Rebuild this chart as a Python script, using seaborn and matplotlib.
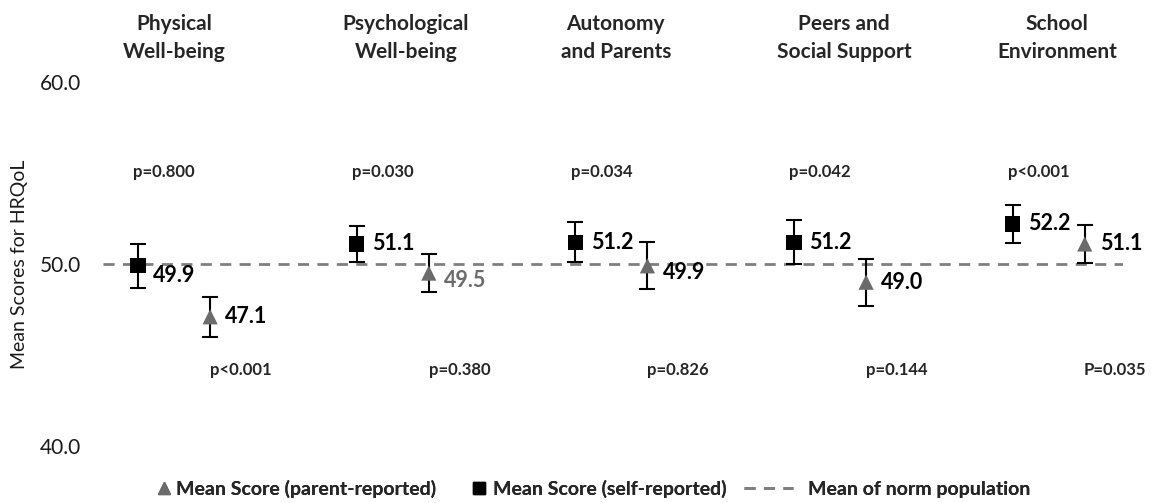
import numpy as np
import pandas as pd
import matplotlib
matplotlib.use("Agg")
import matplotlib.pyplot as plt
from matplotlib.lines import Line2D
import seaborn as sns

# data
domains = ["Physical\nWell-being", "Psychological\nWell-being", "Autonomy\nand Parents",
           "Peers and\nSocial Support", "School\nEnvironment"]
self_mean = [49.9, 51.1, 51.2, 51.2, 52.2]
self_err = [1.2, 1.0, 1.1, 1.2, 1.05]
parent_mean = [47.1, 49.5, 49.9, 49.0, 51.1]
parent_err = [1.1, 1.05, 1.3, 1.3, 1.05]
p_upper = ["p=0.800", "p=0.030", "p=0.034", "p=0.042", "p<0.001"]
p_lower = ["p<0.001", "p=0.380", "p=0.826", "p=0.144", "P=0.035"]
norm_mean = 50.0
y_ticks = [40.0, 50.0, 60.0]

sns.set_theme(style="white")
plt.rcParams['font.family'] = ['Lato', 'DejaVu Sans']

grey = "#6b6b6b"
dash_col = "#7f7f7f"
off = 0.165
x = np.arange(len(domains))
title_nudge = [0.0, 0.06, 0.02, 0.065, 0.04]  # titles sit a bit right of the pair centre

df = pd.DataFrame({
    "x": np.concatenate([x - off, x + off]),
    "score": self_mean + parent_mean,
    "err": self_err + parent_err,
    "type": ["self"] * 5 + ["parent"] * 5,
})

fig = plt.figure(figsize=(11.51, 5.03), dpi=100)
ax = fig.add_axes([103 / 1151, 1 - 446 / 503, 1020 / 1151, 364 / 503])

# norm line
ax.axhline(norm_mean, color=dash_col, lw=2, ls=(0, (4, 3)), zorder=1)

# error bars
for _, r in df.iterrows():
    ax.errorbar(r["x"], r["score"], yerr=r["err"], fmt="none", ecolor="black",
                elinewidth=1.5, capsize=6, capthick=1.5, zorder=2)

sns.scatterplot(data=df, x="x", y="score", hue="type", style="type",
                palette={"self": "black", "parent": grey},
                markers={"self": "s", "parent": "^"},
                s=120, linewidth=0, legend=False, ax=ax, zorder=3)

# value labels (the ones sitting on the norm line are pushed a little down)
for i in range(len(domains)):
    dy = -7 if abs(self_mean[i] - norm_mean) < 0.6 else 0
    ax.annotate(f"{self_mean[i]:.1f}", (x[i] - off, self_mean[i]), xytext=(11, dy),
                textcoords="offset points", va="center", ha="left",
                fontsize=15.5, fontweight="bold", color="black")
    dy = -5 if abs(parent_mean[i] - norm_mean) < 0.6 else 0
    pcol = grey if i == 1 else "black"
    ax.annotate(f"{parent_mean[i]:.1f}", (x[i] + off, parent_mean[i]), xytext=(11, dy),
                textcoords="offset points", va="center", ha="left",
                fontsize=15.5, fontweight="bold", color=pcol)
    ax.text(x[i] - off + 0.12, 55.05, p_upper[i], ha="center", va="center",
            fontsize=12, fontweight="bold")
    ax.text(x[i] + off + 0.14, 44.2, p_lower[i], ha="center", va="center",
            fontsize=12, fontweight="bold")
    ax.text(x[i] + title_nudge[i], 62.42, domains[i], ha="center", va="center",
            fontsize=15, fontweight="bold", linespacing=1.45, clip_on=False)

ax.set_xlim(-0.325, 4.34)
ax.set_ylim(40, 60)
ax.set_yticks(y_ticks)
ax.set_yticklabels([f"{v:.1f}" for v in y_ticks], fontsize=15, color="#1a1a1a")
ax.set_xticks([])
ax.tick_params(axis="y", length=0, pad=16)
ax.set_xlabel("")
ax.set_ylabel("Mean Scores for HRQoL", fontsize=14, labelpad=8, color="#1a1a1a")
sns.despine(ax=ax, left=True, bottom=True)

# legend: three pieces so each handle can have its own length
leg_font = {"weight": "bold", "size": 14}
leg_y = 1 - 489 / 503
items = [
    (Line2D([], [], marker="^", color=grey, ls="none", markersize=9),
     "Mean Score (parent-reported)", 155, 0.9, 0.2),
    (Line2D([], [], marker="s", color="black", ls="none", markersize=8),
     "Mean Score (self-reported)", 470, 0.9, 0.3),
    (Line2D([], [], color=dash_col, lw=2, ls=(0, (4, 3))),
     "Mean of norm population", 744, 2.5, 0.8),
]
for h, lab, px, hl, tp in items:
    leg = fig.legend([h], [lab], loc="center left", bbox_to_anchor=(px / 1151, leg_y),
                     frameon=False, borderpad=0, borderaxespad=0, handlelength=hl,
                     handletextpad=tp, prop=leg_font)
    fig.add_artist(leg)

fig.savefig("out.png", dpi=100)
